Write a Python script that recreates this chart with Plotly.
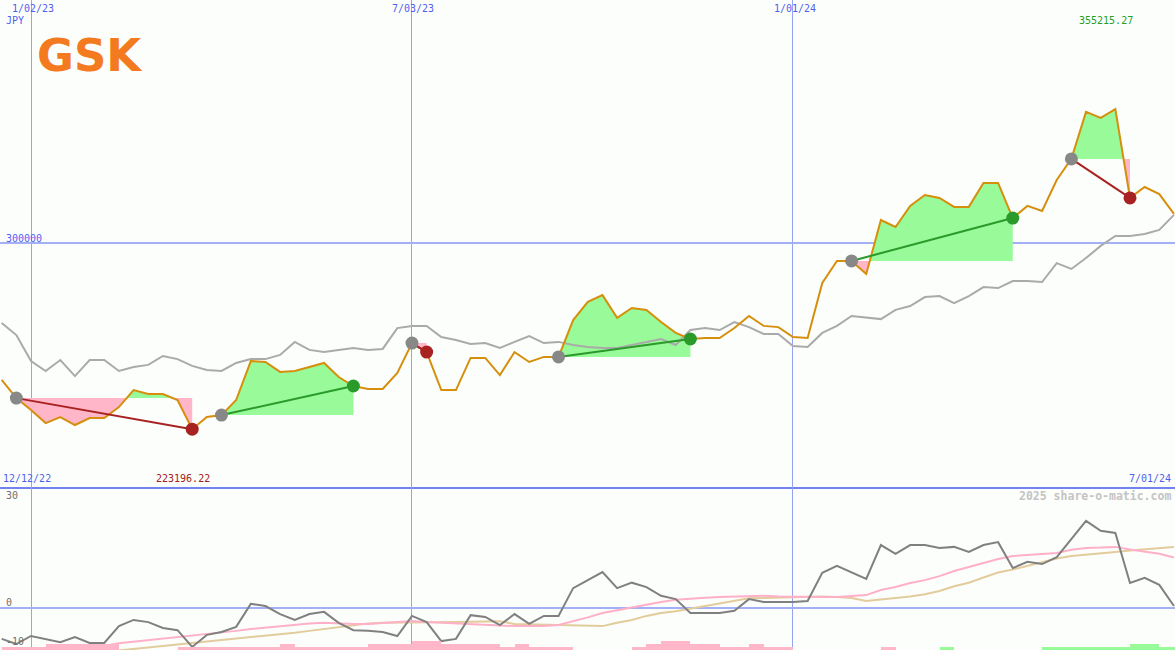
import pandas as pd
import plotly.graph_objects as go

# ---------------- data ----------------
start_date = "2022-12-19"
n_weeks = 81
dates = pd.date_range(start_date, periods=n_weeks, freq="7D")

price = [243500, 236000, 231100, 225700, 228200, 224900, 227800, 227800, 232300, 239300,
         237700, 237700, 235200, 223196.22, 228200, 229000, 235200, 251300, 250900, 246800,
         247200, 248800, 250500, 244700, 241000, 239800, 239800, 246400, 258700, 255000,
         239300, 239300, 252600, 252600, 245500, 255000, 250900, 253000, 253000, 268200,
         275700, 278500, 269100, 273200, 272400, 267400, 262900, 260400, 260800, 260800,
         264900, 269900, 265800, 265300, 261200, 260800, 283500, 292600, 292600, 287200,
         309500, 306600, 315300, 319800, 318600, 314900, 314900, 324800, 324800, 310300,
         315300, 313200, 326000, 334700, 354100, 351600, 355215.27, 318600, 323100, 320200,
         312000]

benchmark = [267000, 262000, 251300, 247200, 251700, 245100, 251700, 251700, 247200, 248800,
             249700, 253400, 252100, 249300, 247600, 247200, 250500, 252100, 252100, 253800,
             259200, 255900, 255000, 255900, 256700, 255900, 256300, 264900, 265800, 265800,
             261200, 260000, 258300, 258700, 256700, 259200, 261600, 258700, 259200, 257900,
             257100, 256700, 256700, 257900, 259200, 260400, 257900, 264100, 264900, 264100,
             267400, 265300, 262500, 262500, 257500, 257100, 262900, 265800, 269900, 269100,
             268600, 272400, 274000, 277700, 278100, 275200, 278100, 281800, 281400, 284300,
             284300, 283900, 291700, 289300, 293800, 298800, 302900, 302900, 303700, 305400,
             311600]

momentum = [-8.6, -10.0, -7.8, -8.6, -9.5, -8.1, -9.7, -9.7, -5.1, -3.4,
            -4.0, -5.6, -6.2, -10.8, -7.5, -6.7, -5.3, 1.0, 0.4, -1.8,
            -3.4, -1.8, -1.2, -4.2, -6.2, -6.4, -6.7, -7.8, -2.3, -4.0,
            -9.2, -8.6, -2.1, -2.6, -4.8, -1.8, -4.5, -2.3, -2.3, 5.3,
            7.5, 9.7, 5.3, 6.8, 5.6, 3.2, 2.3, -1.5, -1.5, -1.5,
            -0.9, 2.3, 1.5, 1.5, 1.5, 1.8, 9.5, 11.4, 9.5, 7.8,
            17.1, 14.7, 17.1, 17.1, 16.3, 16.6, 15.2, 17.1, 17.9, 10.8,
            12.5, 11.9, 13.8, 18.8, 23.7, 21.0, 20.4, 6.7, 8.1, 6.2,
            0.4]

avg_fast = [-13.3, -12.9, -12.5, -12.1, -11.7, -11.3, -10.9, -10.5, -9.8, -9.4,
            -9.0, -8.5, -8.1, -7.7, -7.3, -6.8, -6.4, -5.9, -5.5, -5.1,
            -4.7, -4.4, -4.2, -4.4, -4.5, -4.5, -4.2, -4.0, -3.7, -4.0,
            -4.2, -4.4, -4.5, -4.7, -4.8, -5.1, -5.1, -5.1, -4.8, -3.8,
            -2.7, -1.5, -0.7, 0.0, 0.8, 1.5, 2.1, 2.5, 2.7, 2.9,
            3.0, 3.2, 3.2, 3.0, 2.9, 2.9, 2.9, 2.9, 3.2, 3.4,
            4.8, 5.6, 6.7, 7.5, 8.6, 10.0, 11.1, 12.2, 13.3, 14.1,
            14.4, 14.5, 14.9, 15.8, 16.3, 16.4, 16.6, 15.9, 15.3, 14.7,
            13.7]

avg_slow = [-15.0, -14.6, -14.2, -13.8, -13.4, -13.0, -12.6, -12.2, -11.8, -11.4,
            -10.9, -10.5, -10.1, -9.7, -9.3, -8.9, -8.5, -8.1, -7.7, -7.3,
            -6.9, -6.4, -5.9, -5.3, -4.9, -4.4, -4.2, -4.2, -4.2, -4.1,
            -4.1, -4.0, -3.9, -3.8, -3.8, -4.5, -4.6, -4.7, -4.8, -4.8,
            -4.9, -5.1, -4.2, -3.4, -2.3, -1.5, -1.0, -0.3, 0.4, 1.2,
            1.9, 2.5, 2.6, 2.7, 2.9, 3.0, 3.0, 2.9, 2.6, 1.8,
            2.2, 2.5, 3.0, 3.6, 4.5, 5.8, 6.8, 8.2, 9.6, 10.4,
            11.4, 12.5, 13.4, 14.1, 14.4, 14.7, 15.2, 15.6, 16.0, 16.3,
            16.6]

signal_bars = [-1, -1, -1, -2, -2, -2, -2, -2, 0, 0,
               0, 0, -1, -1, -1, -1, -1, -1, -1, -2,
               -1, -1, -1, -1, -1, -2, -2, -2, -3, -3,
               -2, -2, -2, -2, -1, -2, -1, -1, -1, 0,
               0, 0, 0, -1, -2, -3, -3, -2, -2, -1,
               -1, -2, -1, -1, 0, 0, 0, 0, 0, 0,
               -1, 0, 0, 0, 1, 0, 0, 0, 0, 0,
               0, 1, 1, 1, 1, 1, 1, 2, 2, 1,
               1]

trade_entry = [1, 15, 28, 38, 58, 73]
trade_exit = [13, 24, 29, 47, 69, 77]

grid_dates = ["2023-01-02", "2023-07-03", "2024-01-01"]
price_grid = [300000]
osc_grid = [0]

top_labels = ["1/02/23", "7/03/23", "1/01/24"]
max_label = "355215.27"
min_label = "223196.22"
first_label = "12/12/22"
last_label = "7/01/24"
price_label = "300000"
osc_labels = ["30", "0", "-10"]

# ---------------- styling ----------------
W, H = 1175, 650
BG = "#fcfefc"
BLUE_TXT = "#4f5ff0"
GRID = "#a4b0f6"
VGRID = "#94a4f4"
SEP = "#7282f0"
ORANGE = "#d68f0c"
GREY_LINE = "#aaaaaa"
DARK_GREY = "#808080"
PINK_LINE = "#ffb0c8"
TAN_LINE = "#e2cc9c"
GREEN_FILL = "#98fa98"
PINK_FILL = "#ffb6c8"
RED = "#a82222"
GREEN = "#2a9a2a"

x_start = pd.Timestamp("2022-12-18 04:35")
x_end = pd.Timestamp("2024-07-01 12:00")

split = 1 - 487 / H
y_main = [199326, 400262]
y_osc = [-11.64, 33.0]

fig = go.Figure()

# ---------- trade fills ----------
t0 = dates[0]


def trade_polys(i0, i1):
    level = price[i0]
    t = [(dates[i] - t0).total_seconds() / 86400 for i in range(i0, i1 + 1)]
    p = price[i0:i1 + 1]
    xs, ys = [t[0]], [p[0]]
    for i in range(len(t) - 1):
        a, b = p[i] - level, p[i + 1] - level
        if a * b < 0:
            f = a / (a - b)
            xs.append(t[i] + f * (t[i + 1] - t[i]))
            ys.append(level)
        xs.append(t[i + 1])
        ys.append(p[i + 1])
    xd = [t0 + pd.Timedelta(days=v) for v in xs]
    up = [max(y, level) for y in ys]
    dn = [min(y, level) for y in ys]
    px_ = xd + xd[::-1]
    return px_, up + [level] * len(xd), dn + [level] * len(xd)


for i0, i1 in zip(trade_entry, trade_exit):
    pxs, gy, ry = trade_polys(i0, i1)
    fig.add_trace(go.Scatter(x=pxs, y=gy, fill="toself", mode="lines",
                             line=dict(width=0, color=GREEN_FILL), fillcolor=GREEN_FILL,
                             hoverinfo="skip", showlegend=False))
    fig.add_trace(go.Scatter(x=pxs, y=ry, fill="toself", mode="lines",
                             line=dict(width=0, color=PINK_FILL), fillcolor=PINK_FILL,
                             hoverinfo="skip", showlegend=False))

# ---------- main lines ----------
fig.add_trace(go.Scatter(x=dates, y=benchmark, mode="lines",
                         line=dict(color=GREY_LINE, width=2), hoverinfo="skip", showlegend=False))
fig.add_trace(go.Scatter(x=dates, y=price, mode="lines",
                         line=dict(color=ORANGE, width=2), hoverinfo="skip", showlegend=False))

# trade connectors and dots
for i0, i1 in zip(trade_entry, trade_exit):
    win = price[i1] > price[i0]
    c = GREEN if win else RED
    fig.add_trace(go.Scatter(x=[dates[i0], dates[i1]], y=[price[i0], price[i1]], mode="lines",
                             line=dict(color=c, width=2), hoverinfo="skip", showlegend=False))
    fig.add_trace(go.Scatter(x=[dates[i0]], y=[price[i0]], mode="markers",
                             marker=dict(color="#888888", size=13, line=dict(width=0)),
                             hoverinfo="skip", showlegend=False))
    fig.add_trace(go.Scatter(x=[dates[i1]], y=[price[i1]], mode="markers",
                             marker=dict(color=c, size=13, line=dict(width=0)),
                             hoverinfo="skip", showlegend=False))

# ---------- lower panel ----------
bar_x = [d + pd.Timedelta(hours=84) for d in dates]
bar_y = [abs(v) if v != 0 else None for v in signal_bars]
bar_c = [GREEN_FILL if v > 0 else PINK_FILL for v in signal_bars]
fig.add_trace(go.Bar(x=bar_x, y=bar_y, width=7 * 86400000, marker=dict(color=bar_c, line=dict(width=0)),
                     xaxis="x2", yaxis="y3", hoverinfo="skip", showlegend=False))
fig.add_trace(go.Scatter(x=dates, y=avg_slow, mode="lines", line=dict(color=TAN_LINE, width=2),
                         xaxis="x2", yaxis="y2", hoverinfo="skip", showlegend=False))
fig.add_trace(go.Scatter(x=dates, y=avg_fast, mode="lines", line=dict(color=PINK_LINE, width=2),
                         xaxis="x2", yaxis="y2", hoverinfo="skip", showlegend=False))
fig.add_trace(go.Scatter(x=dates, y=momentum, mode="lines", line=dict(color=DARK_GREY, width=2),
                         xaxis="x2", yaxis="y2", hoverinfo="skip", showlegend=False))

# ---------- annotations ----------
mono = "DejaVu Sans Mono"


def ann(text, x, y, color, xanchor="left", size=10, weight=None, family=mono):
    f = dict(family=family, size=size, color=color)
    if weight:
        f["weight"] = weight
    fig.add_annotation(text=text, x=x / W, y=1 - y / H, xref="paper", yref="paper",
                       xanchor=xanchor, yanchor="middle", showarrow=False, font=f)


ann(top_labels[0], 33, 8, BLUE_TXT, "center")
ann(top_labels[1], 413, 8, BLUE_TXT, "center")
ann(top_labels[2], 795, 8, BLUE_TXT, "center")
ann("JPY", 4, 21, BLUE_TXT)
ann(price_label, 4, 238, BLUE_TXT)
ann(max_label, 1077, 20, "#22a022")
ann(first_label, 1, 478, BLUE_TXT)
ann(min_label, 154, 478, "#a02020")
ann(last_label, 1173, 478, BLUE_TXT, "right")
ann("2025 share-o-matic.com", 1173, 496, "#c4c4c4", "right", size=11.5, weight=700)
ann(osc_labels[0], 4, 495, "#707070")
ann(osc_labels[1], 4, 602, "#707070")
ann(osc_labels[2], 4, 641, "#707070")
ann("GSK", 35, 55, "#f47a20", size=45, weight=700, family="DejaVu Sans")

# ---------- layout ----------
axis_common = dict(showticklabels=False, ticks="", zeroline=False)
fig.update_layout(
    width=W, height=H,
    margin=dict(l=0, r=0, t=0, b=0),
    paper_bgcolor=BG, plot_bgcolor=BG,
    showlegend=False, hovermode=False,
    bargap=0,
    xaxis=dict(domain=[0, 1], anchor="y", type="date", range=[x_start, x_end],
               tickvals=grid_dates, showgrid=True, gridcolor=VGRID, gridwidth=1,
               showline=True, linecolor=SEP, linewidth=2, **axis_common),
    yaxis=dict(domain=[split, 1], anchor="x", range=y_main, tickvals=price_grid,
               showgrid=True, gridcolor=GRID, gridwidth=2, showline=False, **axis_common),
    xaxis2=dict(domain=[0, 1], anchor="y2", type="date", range=[x_start, x_end],
                tickvals=grid_dates, showgrid=True, gridcolor=VGRID, gridwidth=1,
                showline=False, **axis_common),
    yaxis2=dict(domain=[0, split], anchor="x2", range=y_osc, tickvals=osc_grid,
                showgrid=True, gridcolor=GRID, gridwidth=2, showline=False, **axis_common),
    yaxis3=dict(overlaying="y2", anchor="x2", range=[0, 163 / 3], visible=False),
)

fig.write_html("out.html", config={"displayModeBar": False},
               post_script="document.body.style.margin='0';document.body.style.padding='0';"
                           "document.body.style.overflow='hidden';")
